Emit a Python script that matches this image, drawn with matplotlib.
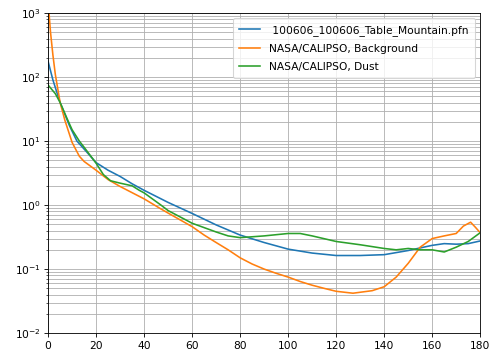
import matplotlib
matplotlib.use("Agg")
import matplotlib.pyplot as plt

# scattering angle (deg) and phase function values
ang_tm = [0, 2, 5, 9, 12, 15, 20, 25, 30, 35, 40, 50, 60, 70, 80, 90, 100,
          110, 120, 130, 140, 150, 160, 165, 170, 175, 180]
pf_tm = [175, 90, 40, 17, 10, 7.5, 4.6, 3.5, 2.8, 2.15, 1.7, 1.1, 0.74,
         0.49, 0.34, 0.26, 0.205, 0.178, 0.163, 0.163, 0.168, 0.195, 0.235,
         0.25, 0.245, 0.25, 0.275]

ang_bg = [0, 1, 2, 3, 5, 7, 10, 13, 15, 20, 25, 30, 40, 47, 50, 60, 65, 70,
          75, 80, 85, 90, 95, 100, 105, 110, 115, 120, 127, 135, 140, 145,
          150, 155, 160, 165, 170, 173, 176, 178, 180]
pf_bg = [1500, 500, 220, 110, 40, 21, 9.5, 5.8, 4.8, 3.5, 2.5, 1.95, 1.25,
         0.87, 0.75, 0.46, 0.34, 0.26, 0.2, 0.15, 0.12, 0.1, 0.086, 0.075,
         0.064, 0.056, 0.05, 0.045, 0.042, 0.046, 0.053, 0.075, 0.123, 0.22,
         0.30, 0.33, 0.36, 0.47, 0.54, 0.45, 0.37]

ang_du = [0, 3, 5, 8, 10, 13, 15, 20, 23, 26, 30, 35, 38, 40, 47, 50, 60,
          70, 75, 80, 90, 100, 105, 110, 120, 130, 140, 145, 150, 155, 160,
          165, 170, 175, 180]
pf_du = [75, 55, 40, 22, 15, 10, 8, 4.5, 3.0, 2.4, 2.2, 2.0, 1.7, 1.55,
         1.0, 0.82, 0.52, 0.38, 0.33, 0.31, 0.33, 0.36, 0.36, 0.33, 0.27,
         0.24, 0.21, 0.20, 0.21, 0.20, 0.20, 0.185, 0.22, 0.27, 0.37]

fig = plt.figure(figsize=(6.4, 4.615), dpi=76.72)
ax = fig.add_axes([0.098, 0.059, 0.88, 0.904])

ax.plot(ang_tm, pf_tm, label=' 100606_100606_Table_Mountain.pfn')
ax.plot(ang_bg, pf_bg, label='NASA/CALIPSO, Background')
ax.plot(ang_du, pf_du, label='NASA/CALIPSO, Dust')

ax.set_yscale('log')
ax.set_xlim(0, 180)
ax.set_ylim(1e-2, 1e3)
ax.set_xticks(range(0, 181, 20))
ax.grid(True, which='major', axis='x')
ax.grid(True, which='both', axis='y')
ax.legend(loc='upper right', labelspacing=0.75, borderpad=0.6)

fig.savefig('out.png', dpi=76.72)
